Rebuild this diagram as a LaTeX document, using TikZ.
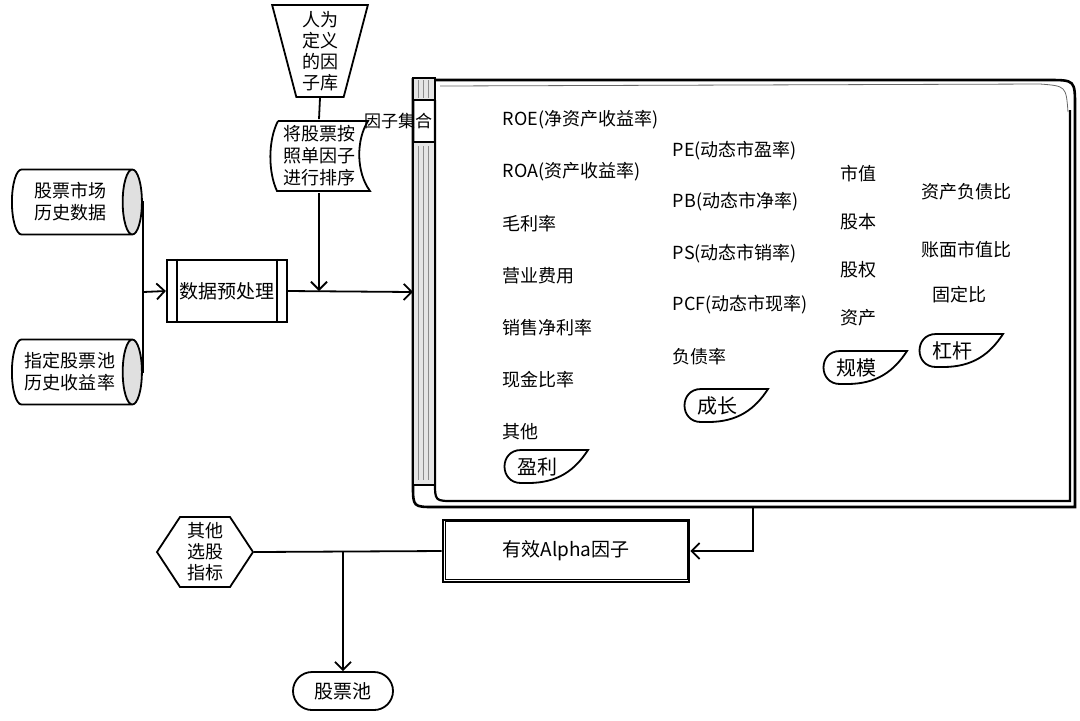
\documentclass[tikz,border=0pt]{standalone}
\usepackage{fontspec}
\setmainfont{Noto Sans CJK SC}
\usetikzlibrary{arrows.meta,positioning,shapes.geometric,calc}

\begin{document}
\begin{tikzpicture}[x=0.5pt,y=-0.5pt,
    line width=0.9pt,
    arr/.style={-{Straight Barb[length=4pt,width=8pt]}},
    txt/.style={font=\fontsize{9.5}{11}\selectfont,inner sep=1pt},
    factor/.style={txt,anchor=west,font=\fontsize{9}{11}\selectfont},
    store/.style={shape=cylinder,draw,shape border rotate=0,aspect=0.45,
        minimum width=32.5pt,minimum height=65pt,cylinder uses custom fill,
        cylinder body fill=white,cylinder end fill=black!12,align=center,
        font=\fontsize{9}{11}\selectfont,inner sep=1pt},
    hatch/.style={draw,fill=black!10}]
    \useasboundingbox (0,0) rectangle (1080,720);

    % data sources
    \node[store] (mkt) at (70,202) {股票市场\\历史数据};
    \node[store] (pool) at (70,372) {指定股票池\\历史收益率};
    \coordinate (join) at (143,292);
    \draw (mkt.east) -| (join) |- (pool.east);

    % preprocessing
    \node[draw,line width=1.1pt,minimum width=60pt,minimum height=31pt,txt] (prep) at (227,291) {数据预处理};
    \draw ($(prep.north west)+(5.5pt,0)$) -- ($(prep.south west)+(5.5pt,0)$);
    \draw ($(prep.north east)+(-5.5pt,0)$) -- ($(prep.south east)+(-5.5pt,0)$);
    \draw[arr] (join) -- (prep.west);

    % factor library
    \node[draw,shape=trapezium,shape border rotate=180,trapezium stretches=true,
        trapezium left angle=77,trapezium right angle=77,minimum width=48pt,
        minimum height=46pt,align=center,font=\fontsize{9}{10.5}\selectfont,inner sep=0pt]
        (lib) at (320,51) {人为\\定义\\的因\\子库};
    \node[minimum width=49pt,minimum height=36pt,align=center,inner sep=0pt,
        font=\fontsize{9}{11}\selectfont] (sort) at (319,156) {将股票按\\照单因子\\进行排序};
    \draw (278,121) -- (368,121) .. controls (356,140) and (356,172) .. (370,191)
        -- (277,191) .. controls (268,172) and (268,140) .. (278,121);
    \draw (lib.south) -- (sort.north);
    \draw[arr] (sort.south) -- (sort.south |- prep.east);

    % factor set box
    \draw[line width=1.3pt] (413,78) -- (413,485) .. controls (413,507) .. (435,507)
        -- (1075,507) -- (1075,107) .. controls (1075,80) .. (1048,80) -- (435,80);
    \draw[line width=1.1pt] (435,100) -- (435,482) .. controls (435,501) .. (454,501) -- (1070,501) -- (1070,110);
    \draw[thin,black!60] (440,86) -- (1040,84) .. controls (1066,86) .. (1068,112);
    \draw[hatch] (413,78) rectangle (435,100);
    \draw[hatch] (413,142) -- (413,485) -- (435,485) -- (435,142) -- cycle;
    \foreach \x in {418,423,428}
        \draw[thin,black!45] (\x,80) -- (\x,98) (\x,146) -- (\x,480);
    \node[txt,font=\fontsize{8.5}{10}\selectfont] (setlbl) at (398,121) {因子集合};
    \coordinate (setin) at (413,292);
    \coordinate (setout) at (753,507);
    \draw[arr] (prep.east) -- (setin);

    % factors
    \foreach \t [count=\n] in {ROE(净资产收益率),ROA(资产收益率),毛利率,营业费用,销售净利率,现金比率,其他}
        \node[factor] (pa\n) at (500,68+52*\n) {\t};
    \foreach \t [count=\n] in {PE(动态市盈率),PB(动态市净率),PS(动态市销率),PCF(动态市现率),负债率}
        \node[factor] (gr\n) at (670,99+51.5*\n) {\t};
    \foreach \t [count=\n] in {市值,股本,股权,资产}
        \node[factor] (sc\n) at (838,126+48*\n) {\t};
    \node[factor] (lv1) at (919,192) {资产负债比};
    \node[factor] (lv2) at (919,250) {账面市值比};
    \node[factor] (lv3) at (930,295) {固定比};

    % category tags
    \foreach \x/\y/\t/\nm in {503/466/盈利/tagpa,683/405/成长/taggr,822/367/规模/tagsc,918/350/杠杆/taglv}{
        \draw[shift={(\x,\y)}] (18,-16) -- (85,-16) .. controls (72,4) and (55,17) .. (25,17)
            -- (18,17) .. controls (-4,17) and (-4,-16) .. (18,-16);
        \node[txt,font=\fontsize{10}{12}\selectfont] (\nm) at (\x+34,\y+1) {\t};
    }

    % effective alpha factors
    \node[draw,line width=1.3pt,minimum width=123pt,minimum height=31pt,txt] (alpha) at (566,551) {有效Alpha因子};
    \draw[thin] ($(alpha.north west)+(2pt,-1.5pt)$) rectangle ($(alpha.south east)+(-1.5pt,2pt)$);
    \draw[arr] (setout) |- (alpha.east);

    % other indicators
    \node[minimum width=48pt,minimum height=35pt,align=center,inner sep=0pt,
        font=\fontsize{9}{10.5}\selectfont] (other) at (205,552) {其他\\选股\\指标};
    \draw (157,552) -- (180,517) -- (230,517) -- (253,552) -- (230,587) -- (180,587) -- cycle;
    \node[draw,rounded corners=9.5pt,minimum width=50pt,minimum height=19pt,txt] (stock) at (343,691) {股票池};
    \coordinate (split) at (stock.north |- alpha.west);
    \draw (alpha.west) -- (other.east);
    \draw[arr] (split) -- (stock.north);
\end{tikzpicture}
\end{document}
